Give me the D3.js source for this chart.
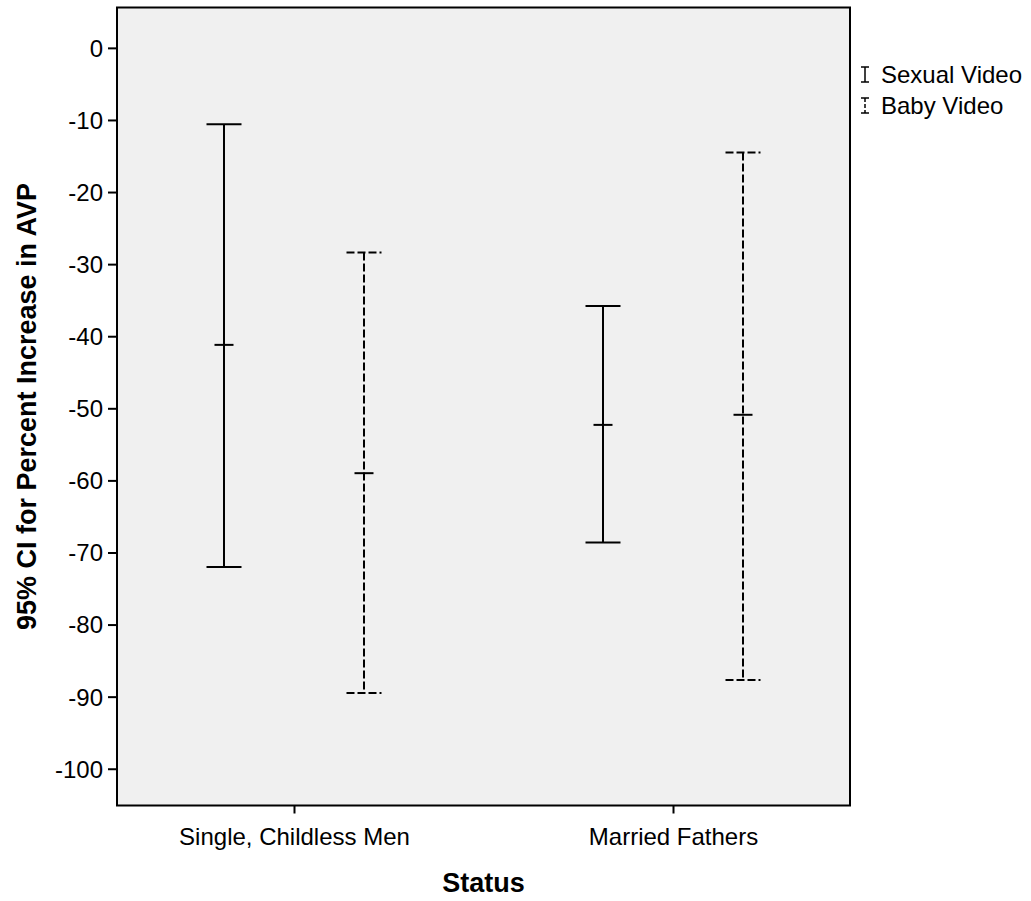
<!DOCTYPE html>
<html>
<head>
<meta charset="utf-8">
<script src="https://cdn.jsdelivr.net/npm/d3@7"></script>
<style>
  body { margin: 0; background: #fff; }
  text { font-family: "Liberation Sans", Arial, sans-serif; fill: #000; }
</style>
</head>
<body>
<figure id="ci-chart" style="margin:0"></figure>
<script>
// chart data
const statuses = ["Single, Childless Men", "Married Fathers"];
const videos = ["Sexual Video", "Baby Video"];
// [statusIndex][videoIndex]
const meanValues = [[-41.2, -59.0], [-52.3, -50.9]];
const upperValues = [[-10.6, -28.4], [-35.8, -14.5]];
const lowerValues = [[-72.0, -89.5], [-68.6, -87.7]];
const yTicks = [0, -10, -20, -30, -40, -50, -60, -70, -80, -90, -100];

const width = 1031, height = 901;
const plotLeft = 117, plotRight = 850, plotTop = 7.5, plotBottom = 805.5;
const tickFont = "24px";

const svg = d3.select("figure#ci-chart")
  .append("svg")
  .attr("width", width)
  .attr("height", height);

// plot background
svg.append("rect")
  .attr("x", plotLeft).attr("y", plotTop)
  .attr("width", plotRight - plotLeft).attr("height", plotBottom - plotTop)
  .style("fill", "#f0f0f0");

// Scales
const y = d3.scaleLinear().domain([-105.1, 5.6]).range([plotBottom, plotTop]);
const x = d3.scalePoint().domain(statuses).range([plotLeft, plotRight]).padding(0.467);
const xSub = d3.scalePoint().domain(videos).range([-70, 70]);

// Y axis (plain hyphen for negatives, like the original)
const yAxis = svg.append("g")
  .attr("transform", `translate(${plotLeft},0)`)
  .call(d3.axisLeft(y).tickValues(yTicks).tickSize(9).tickPadding(5).tickFormat(d => String(d)));
yAxis.select(".domain").remove();
yAxis.selectAll("line").style("stroke", "#000").style("stroke-width", 2);
yAxis.selectAll("text").style("font-size", tickFont).style("fill", "#000")
  .attr("dy", "0.35em");

// X axis
const xAxis = svg.append("g")
  .attr("transform", `translate(0,${plotBottom})`)
  .call(d3.axisBottom(x).tickSize(8).tickPadding(14));
xAxis.select(".domain").remove();
xAxis.selectAll("line").style("stroke", "#000").style("stroke-width", 2);
xAxis.selectAll("text").style("font-size", tickFont).style("fill", "#000");

// frame
svg.append("rect")
  .attr("x", plotLeft).attr("y", plotTop)
  .attr("width", plotRight - plotLeft).attr("height", plotBottom - plotTop)
  .style("fill", "none").style("stroke", "#000").style("stroke-width", 2);

// build rows for error bars
const rows = [];
statuses.forEach((s, i) => {
  videos.forEach((v, j) => {
    rows.push({ status: s, video: v, mean: meanValues[i][j], hi: upperValues[i][j], lo: lowerValues[i][j] });
  });
});

const capHalf = 17.5, meanHalf = 9.5;
const dash = v => v === "Baby Video" ? "8,3" : null;

const bars = svg.append("g").selectAll("g")
  .data(rows)
  .join("g")
  .attr("transform", d => `translate(${x(d.status) + xSub(d.video)},0)`)
  .style("stroke", "#000")
  .style("stroke-width", 2);

bars.append("line")
  .attr("x1", 0).attr("x2", 0)
  .attr("y1", d => y(d.hi)).attr("y2", d => y(d.lo))
  .style("stroke-dasharray", d => dash(d.video));
bars.append("line")
  .attr("x1", -capHalf).attr("x2", capHalf)
  .attr("y1", d => y(d.hi)).attr("y2", d => y(d.hi))
  .style("stroke-dasharray", d => dash(d.video));
bars.append("line")
  .attr("x1", -capHalf).attr("x2", capHalf)
  .attr("y1", d => y(d.lo)).attr("y2", d => y(d.lo))
  .style("stroke-dasharray", d => dash(d.video));
bars.append("line")
  .attr("x1", -meanHalf).attr("x2", meanHalf)
  .attr("y1", d => y(d.mean)).attr("y2", d => y(d.mean));

// Legend
const legend = svg.append("g").selectAll("g")
  .data(videos)
  .join("g")
  .attr("transform", (d, i) => `translate(865,${75 + i * 31})`);
legend.append("line")
  .attr("x1", 0).attr("x2", 0).attr("y1", -8).attr("y2", 7)
  .style("stroke", "#000").style("stroke-width", 1.5)
  .style("stroke-dasharray", d => d === "Baby Video" ? "4,2" : null);
legend.append("line")
  .attr("x1", -4).attr("x2", 4).attr("y1", -8).attr("y2", -8)
  .style("stroke", "#000").style("stroke-width", 1.5);
legend.append("line")
  .attr("x1", -4).attr("x2", 4).attr("y1", 7).attr("y2", 7)
  .style("stroke", "#000").style("stroke-width", 1.5);
legend.append("text")
  .attr("x", 16).attr("dy", "0.35em")
  .style("font-size", tickFont)
  .text(d => d);

// Axis titles
svg.append("text")
  .attr("text-anchor", "middle")
  .attr("x", (plotLeft + plotRight) / 2)
  .attr("y", 892)
  .style("font-size", "27px").style("font-weight", "bold")
  .text("Status");

svg.append("text")
  .attr("text-anchor", "middle")
  .attr("transform", `translate(36,${(plotTop + plotBottom) / 2}) rotate(-90)`)
  .style("font-size", "27px").style("font-weight", "bold")
  .text("95% CI for Percent Increase in AVP");
</script>
</body>
</html>
